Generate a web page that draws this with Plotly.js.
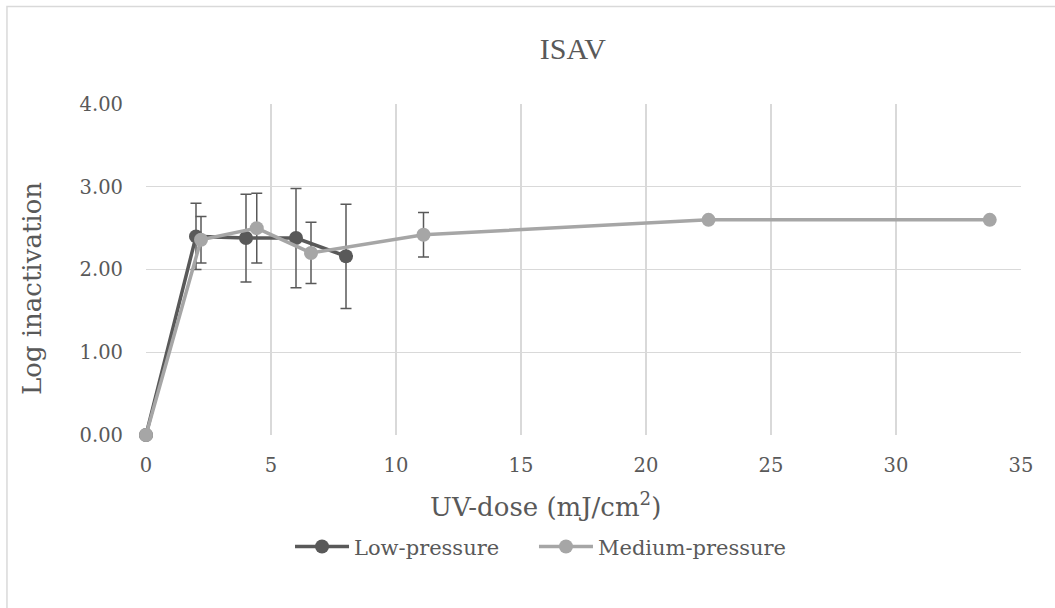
<!DOCTYPE html>
<html>
<head>
<meta charset="utf-8">
<script src="https://cdn.plot.ly/plotly-3.0.1.min.js"></script>
<style>html,body{margin:0;padding:0;background:#fff;}#chart{width:1055px;height:608px;}</style>
</head>
<body>
<div id="chart"></div>
<script>
const chartTitle = "ISAV";
const xTitle = "UV-dose (mJ/cm<sup>2</sup>)";
const yTitle = "Log inactivation";

const lowName = "Low-pressure";
const lowDose = [0, 2, 4, 6, 8];
const lowLog = [0, 2.40, 2.38, 2.38, 2.16];
const lowErr = [0, 0.40, 0.53, 0.60, 0.63];

const medName = "Medium-pressure";
const medDose = [0, 2.2, 4.43, 6.6, 11.1, 22.5, 33.75];
const medLog = [0, 2.36, 2.50, 2.20, 2.42, 2.60, 2.60];
const medErr = [0, 0.28, 0.42, 0.37, 0.27, 0, 0];

const xTicks = [0, 5, 10, 15, 20, 25, 30, 35];
const yTicks = [0, 1, 2, 3, 4];

const FONT = "DejaVu Serif, serif";
const TXT = "#595959";

const traces = [
  {
    x: lowDose, y: lowLog, name: lowName, type: "scatter", mode: "lines+markers",
    line: {color: "#595959", width: 3.5},
    marker: {color: "#595959", size: 14},
    error_y: {type: "data", array: lowErr, visible: true, color: "#595959", thickness: 1.5, width: 5.5},
    cliponaxis: false, legend: "legend"
  },
  {
    x: medDose, y: medLog, name: medName, type: "scatter", mode: "lines+markers",
    line: {color: "#a6a6a6", width: 3.5},
    marker: {color: "#a6a6a6", size: 14},
    error_y: {type: "data", array: medErr, visible: true, color: "#595959", thickness: 1.5, width: 5.5},
    cliponaxis: false, legend: "legend2"
  }
];

const legendBase = {orientation: "h", xanchor: "left", y: -0.338, yanchor: "middle",
  font: {family: FONT, size: 21, color: TXT}, itemwidth: 54, bgcolor: "rgba(0,0,0,0)"};

const layout = {
  width: 1055, height: 608,
  margin: {l: 146, r: 34, t: 104, b: 173},
  paper_bgcolor: "#fff", plot_bgcolor: "#fff",
  font: {family: FONT, color: TXT, size: 19},
  title: {text: chartTitle, font: {family: "Liberation Serif, serif", size: 30, color: TXT}, x: 0.543, xanchor: "center", y: 0.921, yanchor: "middle", yref: "container"},
  xaxis: {
    range: [0, 35], tickvals: xTicks, ticktext: xTicks.map(String),
    showgrid: true, gridcolor: "#d9d9d9", gridwidth: 1.3, zeroline: false, showline: false,
    ticks: "", ticklabelstandoff: 16,
    tickfont: {family: FONT, size: 19.5, color: TXT}
  },
  yaxis: {
    range: [0, 4], tickvals: yTicks, ticktext: yTicks.map(v => v.toFixed(2)),
    showgrid: true, gridcolor: "#d9d9d9", gridwidth: 1.3, zeroline: false, showline: false,
    ticks: "", ticklabelstandoff: 22,
    tickfont: {family: FONT, size: 19.5, color: TXT}
  },
  annotations: [
    {text: xTitle, xref: "paper", yref: "paper", x: 0.457, y: -0.2115, xanchor: "center", yanchor: "middle",
     showarrow: false, font: {family: FONT, size: 26, color: TXT}},
    {text: yTitle, xref: "paper", yref: "paper", x: -0.1303, y: 0.444, xanchor: "center", yanchor: "middle",
     textangle: -90, showarrow: false, font: {family: FONT, size: 26, color: TXT}}
  ],
  showlegend: true,
  legend: Object.assign({}, legendBase, {x: 0.1646}),
  legend2: Object.assign({}, legendBase, {x: 0.4434}),
  shapes: [
    {type: "rect", xref: "paper", yref: "paper", x0: -0.1589, x1: 1.2, y0: 1.2946, y1: -1,
     line: {color: "#d9d9d9", width: 1.5}, fillcolor: "rgba(0,0,0,0)", layer: "below"}
  ]
};

Plotly.newPlot("chart", traces, layout, {displayModeBar: false, staticPlot: true});
</script>
</body>
</html>
